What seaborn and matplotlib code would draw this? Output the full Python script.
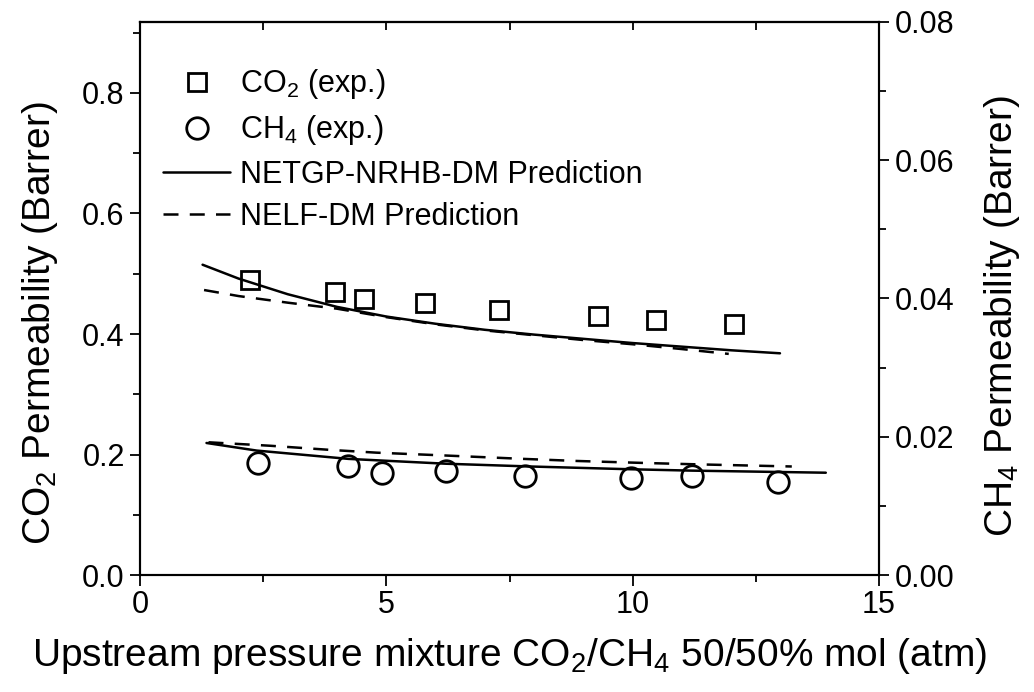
import numpy as np
import pandas as pd
import matplotlib
matplotlib.use("Agg")
import matplotlib.pyplot as plt
import seaborn as sns
from matplotlib.lines import Line2D
from matplotlib.ticker import MultipleLocator, FormatStrFormatter

# ---- data ----
co2_exp_x = [2.23, 3.96, 4.55, 5.79, 7.29, 9.30, 10.47, 12.05]
co2_exp_y = [0.490, 0.469, 0.458, 0.452, 0.440, 0.430, 0.424, 0.417]

ch4_exp_x = [2.40, 4.23, 4.91, 6.21, 7.81, 9.97, 11.21, 12.94]
ch4_exp_y = [0.0162, 0.0158, 0.0148, 0.0150, 0.0143, 0.0141, 0.0143, 0.0135]

co2_netgp_x = [1.27, 2.0, 3.0, 4.0, 5.0, 6.0, 7.0, 8.0, 9.0, 10.0, 11.0, 12.0, 12.99]
co2_netgp_y = [0.515, 0.492, 0.466, 0.445, 0.429, 0.417, 0.407, 0.399, 0.392,
               0.385, 0.379, 0.373, 0.368]

co2_nelf_x = [1.30, 2.0, 3.0, 4.0, 5.0, 6.0, 7.0, 8.0, 9.0, 10.0, 11.0, 11.95]
co2_nelf_y = [0.473, 0.463, 0.452, 0.442, 0.428, 0.416, 0.406, 0.398, 0.390,
              0.383, 0.375, 0.367]

ch4_netgp_x = [1.35, 2.37, 4.23, 6.21, 7.92, 9.95, 11.21, 13.92]
ch4_netgp_y = [0.0191, 0.0180, 0.0168, 0.0161, 0.0157, 0.0153, 0.0151, 0.0148]

ch4_nelf_x = [1.39, 2.64, 3.86, 4.80, 6.16, 7.78, 8.86, 10.28, 11.37, 13.23]
ch4_nelf_y = [0.0192, 0.0187, 0.0181, 0.0177, 0.0173, 0.0168, 0.0165, 0.0162, 0.0160, 0.0157]

legend_labels = ["CO$_2$ (exp.)", "CH$_4$ (exp.)",
                 "NETGP-NRHB-DM Prediction", "NELF-DM Prediction"]

# ---- style ----
sns.set_theme(style="ticks")
plt.rcParams['font.family'] = ['Liberation Sans', 'DejaVu Sans']
plt.rcParams['mathtext.fontset'] = 'custom'
plt.rcParams['mathtext.rm'] = 'Liberation Sans'
plt.rcParams['mathtext.it'] = 'Liberation Sans:italic'
plt.rcParams['mathtext.bf'] = 'Liberation Sans:bold'
plt.rcParams['mathtext.default'] = 'rm'
for k in ('text.color', 'axes.labelcolor', 'xtick.color', 'ytick.color', 'axes.edgecolor'):
    plt.rcParams[k] = 'black'

FS = 22
LFS = 28
LW = 1.8
DASH = (0, (6, 4.5))

fig = plt.figure(figsize=(10.34, 6.92), dpi=100)
ax = fig.add_axes([0.1354, 0.169, 0.7147, 0.7994])
ax2 = ax.twinx()

# CO2 on left axis
sns.lineplot(x=co2_netgp_x, y=co2_netgp_y, ax=ax, color='black', lw=LW,
             sort=False, estimator=None, legend=False)
sns.lineplot(x=co2_nelf_x, y=co2_nelf_y, ax=ax, color='black', lw=LW,
             linestyle=DASH, sort=False, estimator=None, legend=False)
sns.lineplot(x=co2_exp_x, y=co2_exp_y, ax=ax, color='black', linestyle='none',
             marker='s', ms=13, mfc='none', mec='black', mew=2.0,
             sort=False, estimator=None, legend=False)

# CH4 on right axis
sns.lineplot(x=ch4_netgp_x, y=ch4_netgp_y, ax=ax2, color='black', lw=LW,
             sort=False, estimator=None, legend=False)
sns.lineplot(x=ch4_nelf_x, y=ch4_nelf_y, ax=ax2, color='black', lw=LW,
             linestyle=DASH, sort=False, estimator=None, legend=False)
sns.lineplot(x=ch4_exp_x, y=ch4_exp_y, ax=ax2, color='black', linestyle='none',
             marker='o', ms=15.5, mfc='none', mec='black', mew=2.0,
             sort=False, estimator=None, legend=False)

# axes limits & ticks
ax.set_xlim(0, 15)
ax.set_ylim(0, 0.918)
ax2.set_ylim(0, 0.08)

ax.xaxis.set_major_locator(MultipleLocator(5))
ax.xaxis.set_minor_locator(MultipleLocator(2.5))
ax.yaxis.set_major_locator(MultipleLocator(0.2))
ax.yaxis.set_minor_locator(MultipleLocator(0.1))
ax2.yaxis.set_major_locator(MultipleLocator(0.02))
ax2.yaxis.set_minor_locator(MultipleLocator(0.01))
ax.yaxis.set_major_formatter(FormatStrFormatter('%.1f'))
ax2.yaxis.set_major_formatter(FormatStrFormatter('%.2f'))

for a in (ax, ax2):
    for s in a.spines.values():
        s.set_linewidth(1.5)
        s.set_color('black')

ax.tick_params(axis='x', which='major', direction='out', length=8, width=1.3,
               labelsize=FS, pad=3, top=False)
ax.tick_params(axis='x', which='minor', direction='out', length=5, width=1.3, top=False)
ax.tick_params(axis='y', which='major', direction='out', length=7, width=1.3,
               labelsize=FS, pad=4)
ax.tick_params(axis='y', which='minor', direction='out', length=5, width=1.3)
ax2.tick_params(axis='y', which='major', direction='out', length=7, width=1.3,
                labelsize=FS, pad=4)
ax2.tick_params(axis='y', which='minor', direction='out', length=5, width=1.3)

sec = ax.secondary_xaxis('top')
sec.set_xticks([2.5, 5, 7.5, 10, 12.5])
sec.tick_params(direction='in', length=6, width=1.3, labeltop=False)
sec.spines['top'].set_linewidth(1.5)

ax.set_xlabel("Upstream pressure mixture CO$_2$/CH$_4$ 50/50% mol (atm)",
              fontsize=LFS, labelpad=11)
ax.set_ylabel("CO$_2$ Permeability (Barrer)", fontsize=LFS, labelpad=16)
ax2.set_ylabel("CH$_4$ Permeability (Barrer)", fontsize=LFS, labelpad=20)
ax.yaxis.label.set_y(0.455)
ax2.yaxis.label.set_y(0.468)

# legend
handles = [
    Line2D([], [], linestyle='none', marker='s', ms=13, mfc='none', mec='black', mew=2.0),
    Line2D([], [], linestyle='none', marker='o', ms=15.5, mfc='none', mec='black', mew=2.0),
    Line2D([], [], color='black', lw=LW),
    Line2D([], [], color='black', lw=LW, linestyle=DASH),
]
ax2.legend(handles, legend_labels, loc='upper left', bbox_to_anchor=(0.031, 0.918),
           bbox_transform=ax.transAxes, frameon=False, fontsize=FS,
           borderpad=0, borderaxespad=0, handlelength=2.2, handletextpad=0.33,
           labelspacing=0.40)

fig.savefig("out.png", dpi=100)
